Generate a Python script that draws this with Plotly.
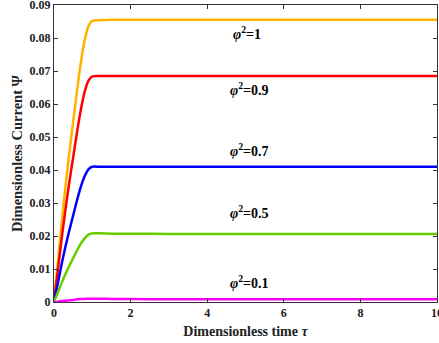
import plotly.graph_objects as go

tau = [0, 0.1, 0.2, 0.3, 0.4, 0.5, 0.6, 0.7, 0.8, 0.9, 1.0, 1.2, 1.5, 2, 3, 4, 5, 6, 7, 8, 9, 10]

psi_10 = [0, 0.0119, 0.0239, 0.0350, 0.0452, 0.0546, 0.0640, 0.0725, 0.0793, 0.0836, 0.0852, 0.0854, 0.0855, 0.0855,
          0.0855, 0.0855, 0.0855, 0.0855, 0.0855, 0.0855, 0.0855, 0.0855]
psi_09 = [0, 0.0096, 0.0192, 0.0281, 0.0363, 0.0438, 0.0514, 0.0582, 0.0637, 0.0671, 0.0684, 0.0685, 0.0685, 0.0685,
          0.0685, 0.0685, 0.0685, 0.0685, 0.0685, 0.0685, 0.0685, 0.0685]
psi_07 = [0, 0.0057, 0.0115, 0.0168, 0.0217, 0.0262, 0.0308, 0.0349, 0.0381, 0.0402, 0.0410, 0.0410, 0.0410, 0.0410,
          0.0410, 0.0410, 0.0410, 0.0410, 0.0410, 0.0410, 0.0410, 0.0410]
psi_05 = [0, 0.0029, 0.0058, 0.0085, 0.0110, 0.0133, 0.0156, 0.0177, 0.0193, 0.0204, 0.0208, 0.0208, 0.0207, 0.0207,
          0.0206, 0.0206, 0.0206, 0.0206, 0.0206, 0.0206, 0.0206, 0.0206]
psi_01 = [0, 0.0001, 0.0003, 0.0004, 0.0005, 0.0006, 0.0008, 0.0009, 0.0009, 0.0010, 0.0010, 0.0010, 0.0009, 0.0009,
          0.0008, 0.0008, 0.0008, 0.0008, 0.0008, 0.0008, 0.0008, 0.0008]

series = [
    ("φ²=1", psi_10, "#FFB300"),
    ("φ²=0.9", psi_09, "#FF0000"),
    ("φ²=0.7", psi_07, "#0000FF"),
    ("φ²=0.5", psi_05, "#66CC00"),
    ("φ²=0.1", psi_01, "#FF00FF"),
]

labels = ["1", "0.9", "0.7", "0.5", "0.1"]
label_x = [5.05, 5.1, 5.1, 5.1, 5.1]
label_y = [0.0815, 0.0645, 0.0460, 0.0272, 0.0060]

x_ticks = [0, 2, 4, 6, 8, 10]
y_ticks = [0, 0.01, 0.02, 0.03, 0.04, 0.05, 0.06, 0.07, 0.08, 0.09]
y_tick_text = ["0", "0.01", "0.02", "0.03", "0.04", "0.05", "0.06", "0.07", "0.08", "0.09"]

SERIF = "Liberation Serif"

fig = go.Figure()
for name, ys, col in series:
    fig.add_trace(go.Scatter(x=tau, y=ys, mode="lines", name=name,
                             line=dict(color=col, width=2.5, shape="spline", smoothing=0.6)))

for lab, lx, ly in zip(labels, label_x, label_y):
    fig.add_annotation(x=lx, y=ly, text="<i>φ</i><sup>2</sup>=" + lab,
                       showarrow=False,
                       font=dict(family=SERIF, size=14, color="black", weight="bold"))

axis_common = dict(showline=True, linecolor="#333333", linewidth=1, mirror="ticks", ticks="inside",
                   ticklen=4, tickcolor="#333333", showgrid=False, zeroline=False,
                   ticklabeloverflow="allow", automargin=False,
                   tickfont=dict(family=SERIF, size=12, color="#222222", weight="bold"))

fig.update_layout(
    width=439, height=343,
    margin=dict(l=54, r=2, t=5, b=41),
    paper_bgcolor="white", plot_bgcolor="white",
    showlegend=False,
    xaxis=dict(range=[0, 10], tickvals=x_ticks, ticktext=[str(v) for v in x_ticks],
               title=dict(text="Dimensionless time <i>τ</i>", standoff=6,
                          font=dict(family=SERIF, size=14, color="#222222", weight="bold")),
               **axis_common),
    yaxis=dict(range=[0, 0.09], tickvals=y_ticks, ticktext=y_tick_text,
               title=dict(text="Dimensionless Current Ψ", standoff=3,
                          font=dict(family=SERIF, size=14.5, color="#222222", weight="bold")),
               **axis_common),
)

fig.write_html("out.html")
